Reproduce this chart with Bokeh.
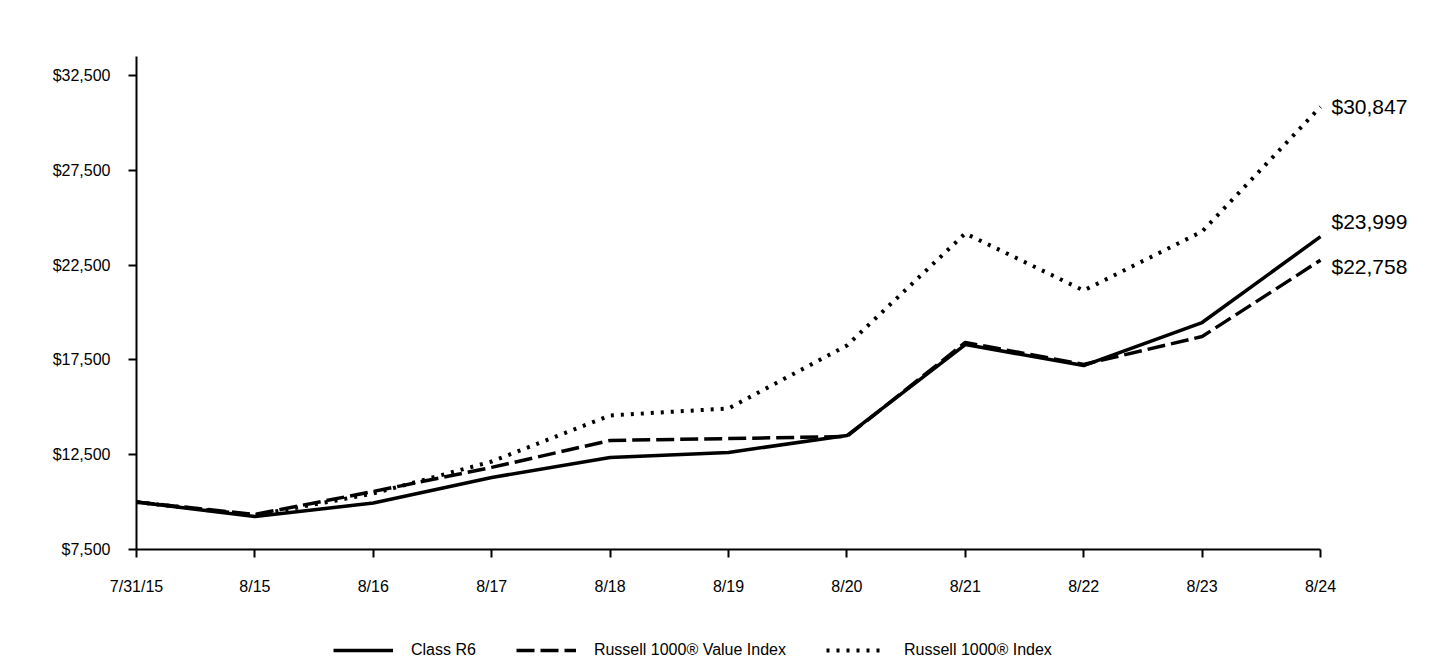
from bokeh.plotting import figure
from bokeh.layouts import column
from bokeh.models import ColumnDataSource, FixedTicker, NumeralTickFormatter, Legend, LegendItem, Range1d
from bokeh.core.properties import value
from bokeh.embed import file_html
from bokeh.resources import INLINE

dates = ["7/31/15", "8/15", "8/16", "8/17", "8/18", "8/19", "8/20", "8/21", "8/22", "8/23", "8/24"]
class_r6 = [10000, 9240, 9950, 11300, 12350, 12620, 13510, 18310, 17200, 19470, 23999]
value_index = [10000, 9350, 10560, 11830, 13250, 13350, 13460, 18420, 17260, 18730, 22758]
russell_1000 = [10000, 9300, 10450, 12140, 14570, 14940, 18260, 24170, 21160, 24270, 30847]
series_names = ["Class R6", "Russell 1000\u00ae Value Index", "Russell 1000\u00ae Index"]
y_ticks = [7500, 12500, 17500, 22500, 27500, 32500]

FONT = "Liberation Sans"
x = list(range(len(dates)))
cols = ["r6", "vi", "ri"]

STYLES = [dict(line_color="black", line_width=3.5),
          dict(line_color="black", line_width=3.5, line_dash="18 6"),
          dict(line_color="black", line_width=4, line_dash="3 7")]

# frame extends to the right canvas edge so the end labels are not clipped
FRAME_W = 1440 - 136 - 4
X_END = 10 * FRAME_W / 1184.0

p = figure(frame_width=FRAME_W, frame_height=493, output_backend="svg", toolbar_location=None,
           x_range=Range1d(0, X_END), y_range=Range1d(7500, 33500),
           min_border_left=136, min_border_right=4, min_border_top=56, min_border_bottom=0)
p.outline_line_color = None
p.xgrid.visible = False
p.ygrid.visible = False

src = ColumnDataSource(dict(x=x, r6=class_r6, vi=value_index, ri=russell_1000))
for c, s in zip(cols, STYLES):
    p.line("x", c, source=src, **s)

# end labels
end_vals = [russell_1000[-1], class_r6[-1], value_index[-1]]
end_text = ["${:,}".format(v) for v in end_vals]
label_offsets = [0, -15, 6]
lsrc = ColumnDataSource(dict(x=[x[-1]] * 3, y=end_vals, t=end_text, yo=label_offsets))
p.text("x", "y", text="t", source=lsrc, x_offset=11, y_offset="yo", text_baseline="middle",
       text_align="left", text_font=value(FONT), text_font_size="21px", text_color="black")

# axes
p.xaxis.ticker = FixedTicker(ticks=x)
p.xaxis.bounds = (0, 10)
p.xaxis.major_label_overrides = {i: d for i, d in enumerate(dates)}
p.yaxis.ticker = FixedTicker(ticks=y_ticks)
p.yaxis.formatter = NumeralTickFormatter(format="$0,0")
for ax in (p.xaxis[0], p.yaxis[0]):
    ax.axis_line_color = "black"
    ax.axis_line_width = 2
    ax.major_tick_line_color = "black"
    ax.major_tick_line_width = 2
    ax.major_tick_out = 8
    ax.major_tick_in = 0
    ax.minor_tick_line_color = None
    ax.major_label_text_font = FONT
    ax.major_label_text_font_size = "16px"
    ax.major_label_text_color = "black"
p.xaxis.major_label_standoff = 20
p.yaxis.major_label_standoff = 18

# legend strip below the chart (same series, out of view, used only for the legend glyphs)
pl = figure(width=1440, height=62, output_backend="svg", toolbar_location=None,
            x_range=Range1d(0, 1), y_range=Range1d(0, 1),
            min_border_left=0, min_border_right=0, min_border_top=0, min_border_bottom=0)
pl.outline_line_color = None
pl.axis.visible = False
pl.grid.visible = False
proxies = [pl.line("x", c, source=src, **s) for c, s in zip(cols, STYLES)]

legend = Legend(items=[LegendItem(label=n, renderers=[r]) for n, r in zip(series_names, proxies)],
                orientation="horizontal", location=(197, 0),
                glyph_width=60, glyph_height=16, label_standoff=18, spacing=40,
                label_text_font=FONT, label_text_font_size="16px", label_text_color="black",
                label_height=16,
                border_line_color=None, background_fill_alpha=0, margin=0, padding=0)
pl.add_layout(legend, "center")

layout = column(p, pl, spacing=0)
html = file_html(layout, INLINE)
open("out.html", "w").write(html)
